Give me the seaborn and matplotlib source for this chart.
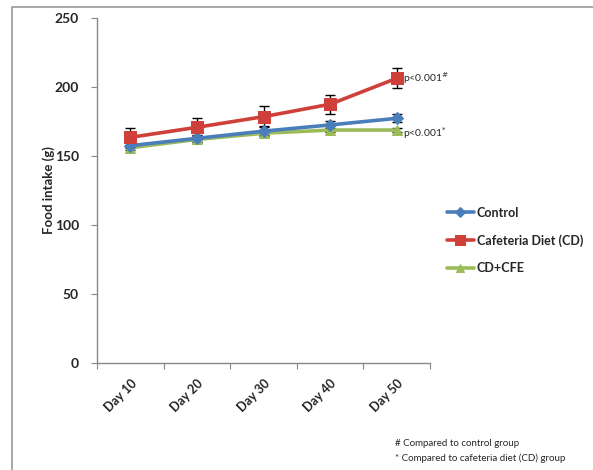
import matplotlib
matplotlib.use("Agg")
import matplotlib.pyplot as plt
from matplotlib.patches import Rectangle
from matplotlib.ticker import FixedLocator, NullFormatter
import seaborn as sns
import pandas as pd
import numpy as np

days = ["Day 10", "Day 20", "Day 30", "Day 40", "Day 50"]
control = [157.5, 162.8, 168.0, 172.5, 177.3]
control_err = [2.0, 2.5, 3.5, 3.0, 3.0]
cd = [163.5, 170.8, 178.5, 187.5, 206.3]
cd_err = [7.0, 6.5, 7.7, 6.8, 7.3]
cdcfe = [156.0, 162.0, 166.5, 168.8, 168.8]
cdcfe_err = [1.5, 1.5, 1.5, 1.5, 1.5]
series_names = ["Control", "Cafeteria Diet (CD)", "CD+CFE"]
yticks = [0, 50, 100, 150, 200, 250]

colors = {"Control": "#4A7EBB", "Cafeteria Diet (CD)": "#D0403A", "CD+CFE": "#9BBB59"}
markers = {"Control": "D", "Cafeteria Diet (CD)": "s", "CD+CFE": "^"}
msizes = {"Control": 6, "Cafeteria Diet (CD)": 9, "CD+CFE": 7}

sns.set_style("white")
plt.rcParams["font.family"] = ["Lato", "DejaVu Sans"]

df = pd.DataFrame({
    "day": days * 3,
    "value": control + cd + cdcfe,
    "err": control_err + cd_err + cdcfe_err,
    "group": [series_names[0]] * 5 + [series_names[1]] * 5 + [series_names[2]] * 5,
})

fig = plt.figure(figsize=(5.93, 4.70), dpi=100)
ax = fig.add_axes([97 / 593, 1 - 363 / 470, (430 - 97) / 593, (363 - 18) / 470])

x = np.arange(len(days))
for name in series_names:
    sub = df[df.group == name]
    ax.errorbar(x, sub["value"], yerr=sub["err"], fmt="none", ecolor="black",
                elinewidth=1.0, capsize=3.5, capthick=1.0, zorder=2)

for name in series_names:
    sub = df[df.group == name].copy()
    sub["xpos"] = x
    sns.lineplot(data=sub, x="xpos", y="value", ax=ax, color=colors[name],
                 marker=markers[name], markersize=msizes[name],
                 markeredgecolor=colors[name], linewidth=2.6, label=name,
                 zorder=3 if name != "CD+CFE" else 2.5)

ax.set_ylim(0, 250)
ax.set_xlim(-0.5, len(days) - 0.5)
ax.set_yticks(yticks)
ax.set_yticklabels([str(t) for t in yticks], fontsize=10, fontweight="bold")
ax.xaxis.set_major_locator(FixedLocator(np.arange(-0.5, len(days), 1.0)))
ax.xaxis.set_major_formatter(NullFormatter())
ax.xaxis.set_minor_locator(FixedLocator(x))
ax.set_xticklabels(days, minor=True, rotation=45, ha="right", rotation_mode="anchor",
                   fontsize=9, fontweight="bold")
ax.tick_params(axis="x", which="minor", length=0, pad=10)
ax.tick_params(axis="x", which="major", length=4, color="#888888", direction="out", bottom=True)
ax.tick_params(axis="y", length=4, color="#888888", direction="out", left=True, pad=9)
ax.set_xlabel("")
ax.set_ylabel("Food intake (g)", fontsize=9.5, fontweight="bold", labelpad=0)

for s in ["top", "right"]:
    ax.spines[s].set_visible(False)
for s in ["left", "bottom"]:
    ax.spines[s].set_color("#888888")
    ax.spines[s].set_linewidth(1.0)

ax.text(4.1, cd[4], "p<0.001$^{\\#}$", fontsize=7.5, va="center", ha="left")
ax.text(4.1, cdcfe[4] - 2, "p<0.001$^{*}$", fontsize=7.5, va="center", ha="left")

leg = ax.legend(loc="center left", bbox_to_anchor=(1.035, 0.355), frameon=False,
                prop={"weight": "bold", "size": 9}, handlelength=2.2, markerscale=0.8,
                labelspacing=1.25, handletextpad=0.2, borderaxespad=0)

fig.text(395 / 593, 1 - 444 / 470, "# Compared to control group", fontsize=7, va="center")
fig.text(395 / 593, 1 - 458 / 470, "* Compared to cafeteria diet (CD) group", fontsize=7, va="center")

fig.patches.append(Rectangle((12 / 593, -0.05), 1.0, 1 - 7 / 470 + 0.05,
                             transform=fig.transFigure, fill=False,
                             edgecolor="#9a9a9a", linewidth=1.2))

fig.savefig("out.png", dpi=100)
